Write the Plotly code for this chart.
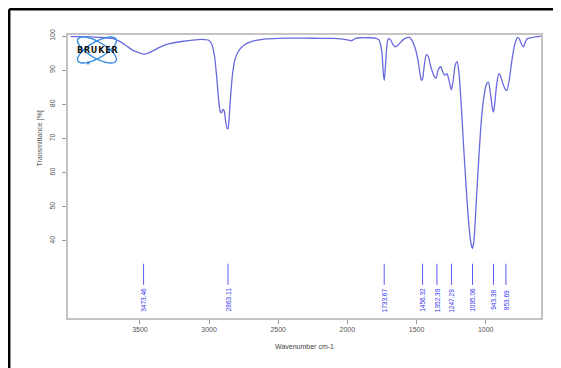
import numpy as np
import plotly.graph_objects as go

# ---------------- data ----------------
wavenumber = [4000, 3900, 3800, 3700, 3650, 3600, 3550, 3500, 3473, 3440, 3400, 3350, 3300, 3200,
              3100, 3050, 3000, 2980, 2960, 2945, 2930, 2920, 2910, 2900, 2890, 2880, 2870, 2863,
              2855, 2845, 2830, 2810, 2780, 2740, 2700, 2650, 2600, 2500, 2400, 2300, 2200, 2100,
              2000, 1970, 1940, 1900, 1850, 1800, 1770, 1750, 1740, 1733, 1725, 1715, 1705, 1690,
              1670, 1650, 1630, 1600, 1570, 1550, 1530, 1510, 1490, 1475, 1465, 1456, 1445, 1430,
              1415, 1400, 1385, 1370, 1358, 1345, 1325, 1310, 1295, 1280, 1265, 1248, 1235, 1220,
              1207, 1195, 1180, 1160, 1140, 1120, 1105, 1095, 1085, 1070, 1050, 1030, 1010, 993,
              980, 965, 950, 943, 935, 920, 905, 895, 875, 860, 848, 830, 810, 790, 770, 755, 740,
              728, 715, 700, 670, 630, 600]
transmittance = [99.8, 99.8, 99.6, 99.3, 98.5, 97.2, 95.8, 95.0, 94.7, 95.0, 95.8, 96.8, 97.6, 98.4,
                 98.9, 99.0, 98.7, 97.5, 94.0, 88.0, 81.0, 78.0, 77.5, 78.5, 78.0, 75.0, 73.0, 72.8,
                 76.0, 82.0, 89.0, 93.5, 96.0, 97.5, 98.3, 98.8, 99.1, 99.3, 99.4, 99.4, 99.3, 99.3,
                 98.9, 98.6, 99.3, 99.5, 99.5, 99.4, 98.8, 95.0, 89.0, 87.0, 91.0, 97.0, 99.2, 99.0,
                 97.5, 96.8, 97.5, 98.8, 99.5, 99.6, 98.5, 96.5, 93.0, 89.0, 87.0, 87.5, 91.0, 94.5,
                 94.0, 91.5, 89.5, 88.0, 87.7, 90.0, 91.0, 89.5, 88.5, 89.0, 87.0, 84.2, 87.0, 91.5,
                 92.5, 90.0, 82.0, 68.0, 55.0, 44.0, 39.0, 37.8, 40.0, 50.0, 64.0, 76.0, 83.0, 86.0,
                 86.5, 83.0, 78.5, 77.7, 80.0, 86.0, 89.0, 88.5, 86.0, 84.5, 84.0, 87.0, 93.0, 97.5,
                 99.6, 99.0, 97.5, 96.8, 98.0, 99.2, 99.5, 99.8, 100.0]

peak_positions = [3473.46, 2863.11, 1733.67, 1456.32, 1352.39, 1247.29, 1095.06, 943.38, 853.69]
peak_labels = ["3473.46", "2863.11", "1733.67", "1456.32", "1352.39", "1247.29", "1095.06", "943.38", "853.69"]

x_ticks = [3500, 3000, 2500, 2000, 1500, 1000]
y_ticks = [40, 50, 60, 70, 80, 90, 100]

# ---------------- layout geometry ----------------
OFF = 8                      # page body margin
W, H = 561 - OFF, 368 - OFF
L, R, T, B = 60, 20, 27, 50
PW, PH = W - L - R, H - T - B


def px(xs):
    """screen x -> paper"""
    return (xs - OFF - L) / PW


def py(ys):
    """screen y -> paper"""
    return 1 - (ys - OFF - T) / PH


FONT = "Liberation Sans, Arial"

fig = go.Figure()

fig.add_trace(go.Scatter(
    x=wavenumber, y=transmittance, mode="lines",
    line=dict(color="#6a6ae0", width=1.3, shape="spline", smoothing=0.6),
    hoverinfo="skip", showlegend=False))

# peak marker lines
lx, ly = [], []
for p in peak_positions:
    lx += [p, p, None]
    ly += [33.3, 27.1, None]
fig.add_trace(go.Scatter(x=lx, y=ly, mode="lines",
                         line=dict(color="#5a5af0", width=1),
                         hoverinfo="skip", showlegend=False))

annotations = []
for p, lab in zip(peak_positions, peak_labels):
    annotations.append(dict(x=p, y=22.6, xref="x", yref="y", text=lab, textangle=-90,
                            xanchor="center", yanchor="middle",
                            showarrow=False, font=dict(size=6.5, color="#3535ee", family=FONT)))

# y-axis title (centred on the 40-100 region)
annotations.append(dict(x=px(40), y=70, xref="paper", yref="y", text="Transmittance [%]",
                        textangle=-90, xanchor="center", yanchor="middle", showarrow=False,
                        font=dict(size=7, color="#555555", family=FONT)))

# Bruker logo text
annotations.append(dict(x=px(97), y=py(50), xref="paper", yref="paper",
                        text="<b>B\u200aR\u200aU\u200aK\u200aE\u200aR</b>",
                        xanchor="center", yanchor="middle", showarrow=False,
                        font=dict(size=8, color="#111111", family="DejaVu Sans, Arial")))

shapes = []
# logo ellipses
t = np.linspace(0, 2 * np.pi, 60)
for ang in (30, -30):
    a, b = 22, 8
    th = np.deg2rad(ang)
    ex = 97 + a * np.cos(t) * np.cos(th) - b * np.sin(t) * np.sin(th)
    ey = 50 + a * np.cos(t) * np.sin(th) + b * np.sin(t) * np.cos(th)
    path = "M " + " L ".join(f"{px(xx):.5f},{py(yy):.5f}" for xx, yy in zip(ex, ey)) + " Z"
    shapes.append(dict(type="path", path=path, xref="paper", yref="paper",
                       line=dict(color="#3d8fe0", width=1.4)))
shapes.append(dict(type="circle", xref="paper", yref="paper",
                   x0=px(86.5), x1=px(89.5), y0=py(64.5), y1=py(61.5),
                   fillcolor="#3d8fe0", line=dict(width=0)))

# outer black frame (top and left)
shapes.append(dict(type="line", xref="paper", yref="paper", x0=px(9.2), x1=px(561 + 5),
                   y0=py(9.2), y1=py(9.2), line=dict(color="black", width=2.5)))
shapes.append(dict(type="line", xref="paper", yref="paper", x0=px(9.2), x1=px(9.2),
                   y0=py(9.2), y1=py(368 + 5), line=dict(color="black", width=2.5)))

fig.update_layout(
    width=W, height=H,
    margin=dict(l=L, r=R, t=T, b=B),
    paper_bgcolor="white", plot_bgcolor="white",
    font=dict(family=FONT, size=7, color="#555555"),
    annotations=annotations, shapes=shapes,
    xaxis=dict(range=[4020, 600], tickvals=x_ticks, ticktext=[str(v) for v in x_ticks],
               showgrid=False, zeroline=False, showline=True, mirror=True,
               linecolor="#c4c4c4", linewidth=2, ticks="outside", ticklen=4,
               tickcolor="#999999", tickfont=dict(size=7, color="#555555"),
               title=dict(text="Wavenumber cm-1", font=dict(size=7, color="#444444"), standoff=12)),
    yaxis=dict(range=[17.4, 100.3], tickvals=y_ticks, ticktext=[str(v) for v in y_ticks],
               showgrid=False, zeroline=False, showline=True, mirror=True,
               linecolor="#c4c4c4", linewidth=2, ticks="outside", ticklen=4,
               tickcolor="#999999", tickangle=-90, ticklabelstandoff=4,
               tickfont=dict(size=7, color="#555555")),
)

fig.write_html("out.html")
